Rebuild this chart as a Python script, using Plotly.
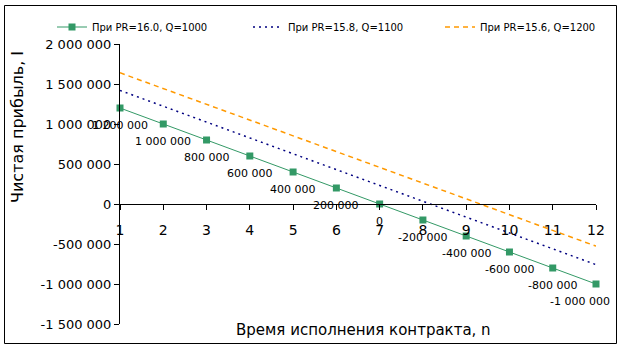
import plotly.graph_objects as go

# Contract duration (years)
n = [1, 2, 3, 4, 5, 6, 7, 8, 9, 10, 11, 12]

# Net profit for each scenario
profit_pr160 = [1200000, 1000000, 800000, 600000, 400000, 200000, 0,
                -200000, -400000, -600000, -800000, -1000000]
profit_pr158 = [1420000, 1222000, 1024000, 826000, 628000, 430000, 232000,
                34000, -164000, -362000, -560000, -758000]
profit_pr156 = [1640000, 1443000, 1246000, 1049000, 852000, 655000, 458000,
                261000, 64000, -133000, -330000, -527000]

series_names = ["При PR=16.0, Q=1000", "При PR=15.8, Q=1100", "При PR=15.6, Q=1200"]

y_ticks = [2000000, 1500000, 1000000, 500000, 0, -500000, -1000000, -1500000]
y_min, y_max = -1500000, 2000000


def fmt(v):
    """Integer with a space as thousands separator and a plain hyphen for minus."""
    s = f"{abs(int(v)):,}".replace(",", " ")
    return ("-" if v < 0 else "") + s


FONT = "DejaVu Sans"
W, H = 621, 349
L, R, T, B = 120, 25, 44, 25          # plot area: x 120..596, y 44..324
PW, PH = W - L - R, H - T - B


def px_x(x):
    return (x - L) / PW


def px_y(y):
    return (H - B - y) / PH


fig = go.Figure()

fig.add_trace(go.Scatter(
    x=n, y=profit_pr160, name=series_names[0], mode="lines+markers",
    line=dict(color="#339966", width=1),
    marker=dict(symbol="square", size=7, color="#339966"),
    cliponaxis=False, legend="legend",
))
fig.add_trace(go.Scatter(
    x=n, y=profit_pr158, name=series_names[1], mode="lines",
    line=dict(color="#000080", width=1.5, dash="2px,4px"),
    cliponaxis=False, legend="legend2",
))
fig.add_trace(go.Scatter(
    x=n, y=profit_pr156, name=series_names[2], mode="lines",
    line=dict(color="#FF9900", width=1.5, dash="5px,4px"),
    cliponaxis=False, legend="legend3",
))

# Value labels below the green markers; the last one is pulled inside the frame
labels = []
for i, (xv, yv) in enumerate(zip(n, profit_pr160)):
    last = i == len(n) - 1
    labels.append(dict(
        x=xv, y=yv, xref="x", yref="y", text=fmt(yv), showarrow=False,
        xanchor="right" if last else "center", yanchor="middle",
        xshift=16 if last else 0, yshift=-17,
        font=dict(family=FONT, size=11, color="black"),
    ))


def legend_at(x_text_start):
    return dict(
        orientation="h", x=px_x(x_text_start - 43), y=px_y(27),
        xanchor="left", yanchor="middle",
        font=dict(family=FONT, size=10, color="black"),
        bgcolor="rgba(0,0,0,0)",
    )


# x axis crosses the value axis at zero
zero_pos = (0 - y_min) / (y_max - y_min)

fig.update_layout(
    width=W, height=H,
    margin=dict(l=L, r=R, t=T, b=B, autoexpand=False),
    paper_bgcolor="white", plot_bgcolor="white",
    font=dict(family=FONT, size=13, color="black"),
    showlegend=True,
    legend=legend_at(95),
    legend2=legend_at(291),
    legend3=legend_at(483),
    xaxis=dict(
        range=[1, 12], tickmode="array", tickvals=n, ticktext=[str(v) for v in n],
        showgrid=False, zeroline=False,
        showline=True, linecolor="black", linewidth=1,
        ticks="outside", ticklen=5, tickcolor="black",
        anchor="free", position=zero_pos,
        ticklabelstandoff=8,
        tickfont=dict(family=FONT, size=14),
    ),
    yaxis=dict(
        range=[y_min, y_max], tickmode="array", tickvals=y_ticks,
        ticktext=[fmt(v) for v in y_ticks],
        showgrid=False, zeroline=False,
        showline=True, linecolor="black", linewidth=1,
        ticks="outside", ticklen=5, tickcolor="black",
        tickfont=dict(family=FONT, size=13),
    ),
    annotations=labels + [
        dict(text="Время исполнения контракта, n", xref="paper", yref="paper",
             x=px_x(363), y=px_y(330), showarrow=False,
             xanchor="center", yanchor="middle",
             font=dict(family=FONT, size=15, color="black")),
        dict(text="Чистая прибыль, I", xref="paper", yref="paper",
             x=px_x(18), y=px_y(127), showarrow=False, textangle=-90,
             xanchor="center", yanchor="middle",
             font=dict(family=FONT, size=16, color="black")),
    ],
    shapes=[
        dict(type="rect", xref="paper", yref="paper",
             x0=px_x(4.5), x1=px_x(616.5),
             y0=px_y(343.5), y1=px_y(5.5),
             line=dict(color="black", width=1), fillcolor="rgba(0,0,0,0)",
             layer="below"),
    ],
)

fig.write_html("out.html")
